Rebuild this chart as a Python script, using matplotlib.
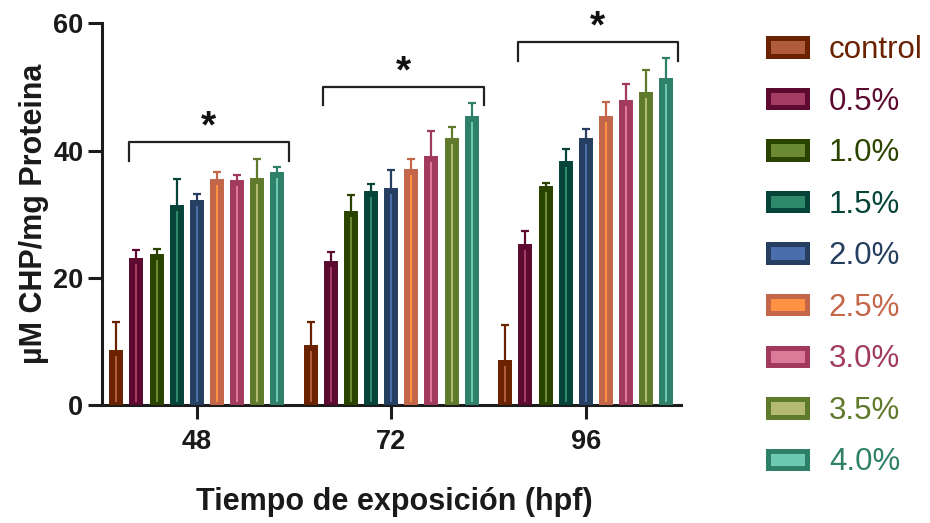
import numpy as np
import matplotlib
matplotlib.use("Agg")
from matplotlib import pyplot as plt
from matplotlib.patches import Patch

plt.rcParams['font.family'] = ['Liberation Sans', 'DejaVu Sans']

# data
times = ['48', '72', '96']
groups = ['control', '0.5%', '1.0%', '1.5%', '2.0%', '2.5%', '3.0%', '3.5%', '4.0%']

means_48 = [8.2, 22.7, 23.2, 31.0, 31.8, 35.1, 34.9, 35.2, 36.2]
means_72 = [9.0, 22.2, 30.1, 33.1, 33.6, 36.7, 38.6, 41.5, 45.0]
means_96 = [6.6, 24.9, 33.9, 37.9, 41.5, 44.9, 47.5, 48.8, 51.0]

errtop_48 = [13.0, 24.4, 24.6, 35.5, 33.2, 36.6, 36.1, 38.6, 37.4]
errtop_72 = [13.0, 24.1, 33.0, 34.8, 36.9, 38.7, 43.0, 43.75, 47.5]
errtop_96 = [12.6, 27.3, 34.95, 40.2, 43.4, 47.7, 50.5, 52.6, 54.6]

bracket_y = [41.3, 50.0, 57.0]

edges = ['#6B2200', '#5C0A30', '#2A4400', '#06443A', '#263F60',
         '#C3664A', '#A23A60', '#607A2C', '#2E8069']
fills = ['#B05A3E', '#A53C64', '#6C8A32', '#2F8A6C', '#4A6DAB',
         '#FF9142', '#DC7A9A', '#B3BA72', '#6DCAB2']

means = np.array([means_48, means_72, means_96])
errtop = np.array([errtop_48, errtop_72, errtop_96])

fig = plt.figure(figsize=(9.3, 5.23), dpi=100)
ax = fig.add_axes([0.1097, 0.2256, 0.6226, 0.7298])

x = np.arange(len(times))
step = 0.1034
width = 0.041
axis_color = '#1c1c1c'

for i, g in enumerate(groups):
    pos = x + (i - 4) * step
    vals = means[:, i]
    up = errtop[:, i] - vals
    ax.errorbar(pos, vals, yerr=[np.zeros_like(up), up], fmt='none',
                ecolor=edges[i], elinewidth=1.6, capsize=2.6, capthick=1.6,
                zorder=2)
    ax.bar(pos, vals, width=width, color=fills[i], edgecolor=edges[i],
           linewidth=4.3, zorder=3)

# significance brackets
for k in range(len(times)):
    x0 = x[k] - 0.35
    x1 = x[k] + 0.475
    y = bracket_y[k]
    ax.plot([x0, x0, x1, x1], [y - 2.9, y, y, y - 2.9], color='#222222',
            lw=1.6, clip_on=False, zorder=4)
    ax.text((x0 + x1) / 2, y + 0.7, '*', ha='center', va='baseline',
            fontsize=28, fontweight='bold', color='#111111', clip_on=False)

ax.set_xlim(-0.487, 2.49)
ax.set_ylim(0, 60)
ax.set_yticks([0, 20, 40, 60])
ax.set_xticks(x)
ax.set_xticklabels(times)

for s in ['top', 'right']:
    ax.spines[s].set_visible(False)
for s in ['left', 'bottom']:
    ax.spines[s].set_linewidth(2.2)
    ax.spines[s].set_color(axis_color)
ax.tick_params(axis='both', width=2.2, length=10, color=axis_color,
               labelsize=19.5, labelcolor='#1a1a1a')
ax.tick_params(axis='y', pad=3.5)
ax.tick_params(axis='x', pad=7.5)
for lab in ax.get_xticklabels() + ax.get_yticklabels():
    lab.set_fontweight('bold')

ax.set_ylabel('µM CHP/mg Proteina', fontsize=22, fontweight='bold', color='#1a1a1a')
ax.yaxis.set_label_coords(-0.092, 0.5)
ax.set_xlabel('Tiempo de exposición (hpf)', fontsize=22, fontweight='bold', color='#1a1a1a')
ax.xaxis.set_label_coords(0.505, -0.215)

handles = [Patch(facecolor=fills[i], edgecolor=edges[i], linewidth=3.6)
           for i in range(len(groups))]
fig.legend(handles, groups, loc='upper left', bbox_to_anchor=(0.8126, 0.957),
           frameon=False, fontsize=22.5, labelcolor=edges,
           handlelength=1.24, handleheight=0.48, handletextpad=0.7,
           labelspacing=0.69, borderaxespad=0)

fig.savefig('out.png', dpi=100)
